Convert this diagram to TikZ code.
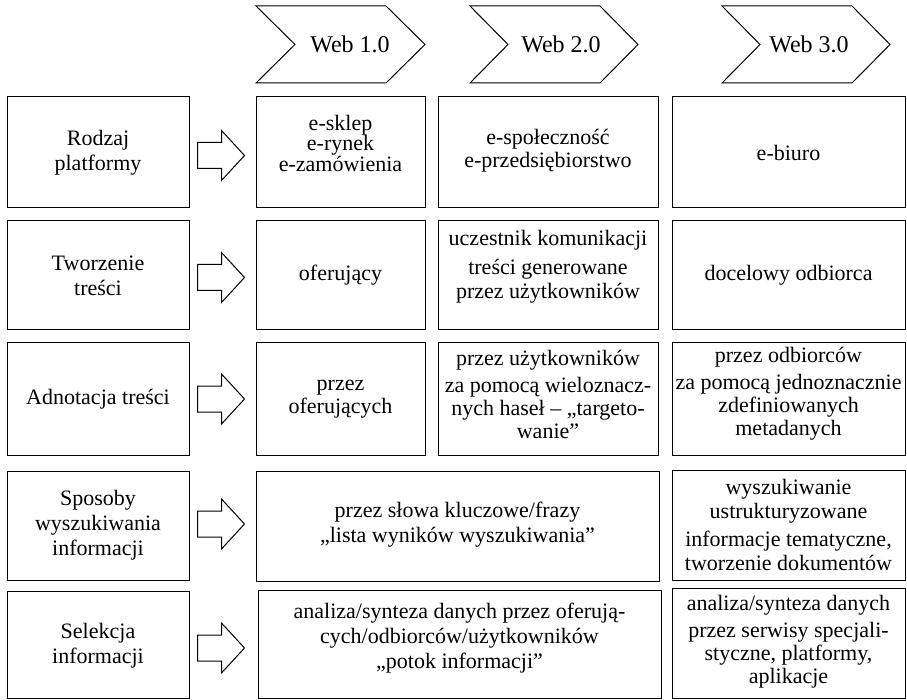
\documentclass[tikz,border=0pt]{standalone}
\usepackage{fontspec}
\setmainfont{Liberation Serif}
\newfontfamily\tnr{Liberation Serif}
\begin{document}
\begin{tikzpicture}[x=1pt,y=-1pt,
  box/.style={draw, line width=1pt, inner sep=0pt},
  txt/.style={align=center, inner sep=0pt, font=\tnr\fontsize{22}{24}\selectfont},
  tight/.style={font=\tnr\fontsize{22}{20}\selectfont},
  loose/.style={font=\tnr\fontsize{22}{25}\selectfont},
  dense/.style={font=\tnr\fontsize{22}{23}\selectfont},
  chevtext/.style={font=\tnr\fontsize{24}{26}\selectfont, inner sep=0pt},
  chev/.style={draw, line width=1pt, line join=miter},
  blockarr/.style={draw, line width=1pt, line join=miter},
]
\useasboundingbox (0,0) rectangle (907,700);

% header chevrons
\draw[chev] (256,6) -- (386,6) -- (425,44.5) -- (386,83) -- (256,83) -- (295,44.5) -- cycle;
\node[chevtext] (w1) at (350,44.5) {Web 1.0};
\draw[chev] (470,6) -- (600,6) -- (638,44.5) -- (600,83) -- (470,83) -- (508,44.5) -- cycle;
\node[chevtext] (w2) at (561,44.5) {Web 2.0};
\draw[chev] (722,6) -- (852,6) -- (890,44.5) -- (852,83) -- (722,83) -- (760,44.5) -- cycle;
\node[chevtext] (w3) at (809,44.5) {Web 3.0};

% row 1
\node[box, minimum width=182pt, minimum height=111pt] (l1) at (98,152.5) {};
\node[box, minimum width=169pt, minimum height=111pt] (c11) at (340.5,152.5) {};
\node[box, minimum width=220pt, minimum height=111pt] (c21) at (548,152.5) {};
\node[box, minimum width=233pt, minimum height=111pt] (c31) at (788.5,152.5) {};
\node[txt, loose] (l1t) at (l1.center) {Rodzaj\\platformy};
\node[txt, tight] (c11t) at ([yshift=9pt]c11.center) {e-sklep\\e-rynek\\e-zamówienia};
\node[txt, dense] (c21t) at ([yshift=2pt]c21.center) {e-społeczność\\e-przedsiębiorstwo};
\node[txt] (c31t) at (c31.center) {e-biuro};

% row 2
\node[box, minimum width=182pt, minimum height=109pt] (l2) at (98,275.5) {};
\node[box, minimum width=169pt, minimum height=109pt] (c12) at (340.5,275.5) {};
\node[box, minimum width=220pt, minimum height=109pt] (c22) at (548,275.5) {};
\node[box, minimum width=233pt, minimum height=109pt] (c32) at (788.5,275.5) {};
\node[txt, loose] (l2t) at (l2.center) {Tworzenie\\treści};
\node[txt] (c12t) at (c12.center) {oferujący};
\node[txt] (c22t) at ([yshift=9pt]c22.center) {uczestnik komunikacji\\[5pt]treści generowane\\przez użytkowników};
\node[txt] (c32t) at (c32.center) {docelowy odbiorca};

% row 3
\node[box, minimum width=182pt, minimum height=112pt] (l3) at (98,399) {};
\node[box, minimum width=169pt, minimum height=112pt] (c13) at (340.5,399) {};
\node[box, minimum width=220pt, minimum height=112pt] (c23) at (548,399) {};
\node[box, minimum width=233pt, minimum height=112pt] (c33) at (788.5,399) {};
\node[txt] (l3t) at (l3.center) {Adnotacja treści};
\node[txt, dense] (c13t) at (c13.center) {przez\\oferujących};
\node[txt, dense] (c23t) at ([yshift=5pt]c23.center) {przez użytkowników\\[4pt]za pomocą wieloznacz-\\nych haseł – „targeto-\\wanie”};
\node[txt, dense] (c33t) at ([yshift=5pt]c33.center) {przez odbiorców\\[4pt]za pomocą jednoznacznie\\zdefiniowanych\\metadanych};

% row 4
\node[box, minimum width=182pt, minimum height=109pt] (l4) at (98,525.5) {};
\node[box, minimum width=403pt, minimum height=110pt] (m4) at (457.5,526) {};
\node[box, minimum width=233pt, minimum height=110pt] (c34) at (788.5,525) {};
\node[txt, loose] (l4t) at (l4.center) {Sposoby\\wyszukiwania\\informacji};
\node[txt, loose] (m4t) at ([yshift=1pt]m4.center) {przez słowa kluczowe/frazy\\„lista wyników wyszukiwania”};
\node[txt] (c34t) at (c34.center) {wyszukiwanie\\ustrukturyzowane\\[4pt]informacje tematyczne,\\tworzenie dokumentów};

% row 5
\node[box, minimum width=182pt, minimum height=107pt] (l5) at (98,645) {};
\node[box, minimum width=403pt, minimum height=108pt] (m5) at (459.5,644.5) {};
\node[box, minimum width=233pt, minimum height=110pt] (c35) at (788.5,643.5) {};
\node[txt, loose] (l5t) at ([yshift=-1pt]l5.center) {Selekcja\\informacji};
\node[txt, loose] (m5t) at ([yshift=6pt]m5.center) {analiza/synteza danych przez oferują-\\cych/odbiorców/użytkowników\\„potok informacji”};
\node[txt, dense] (c35t) at ([yshift=2pt]c35.center) {analiza/synteza danych\\[4pt]przez serwisy specjali-\\styczne, platformy,\\aplikacje};

% block arrows
\foreach \r/\dy in {1/3,2/2,3/0,4/-1.5,5/3}{
  \path (l\r.east) ++(8,\dy) coordinate (a\r);
  \draw[blockarr] (a\r) ++(0,-13) -- ++(24,0) -- ++(0,-12) -- ++(23,25)
     -- ++(-23,25) -- ++(0,-12) -- ++(-24,0) -- cycle;
}
\end{tikzpicture}
\end{document}
